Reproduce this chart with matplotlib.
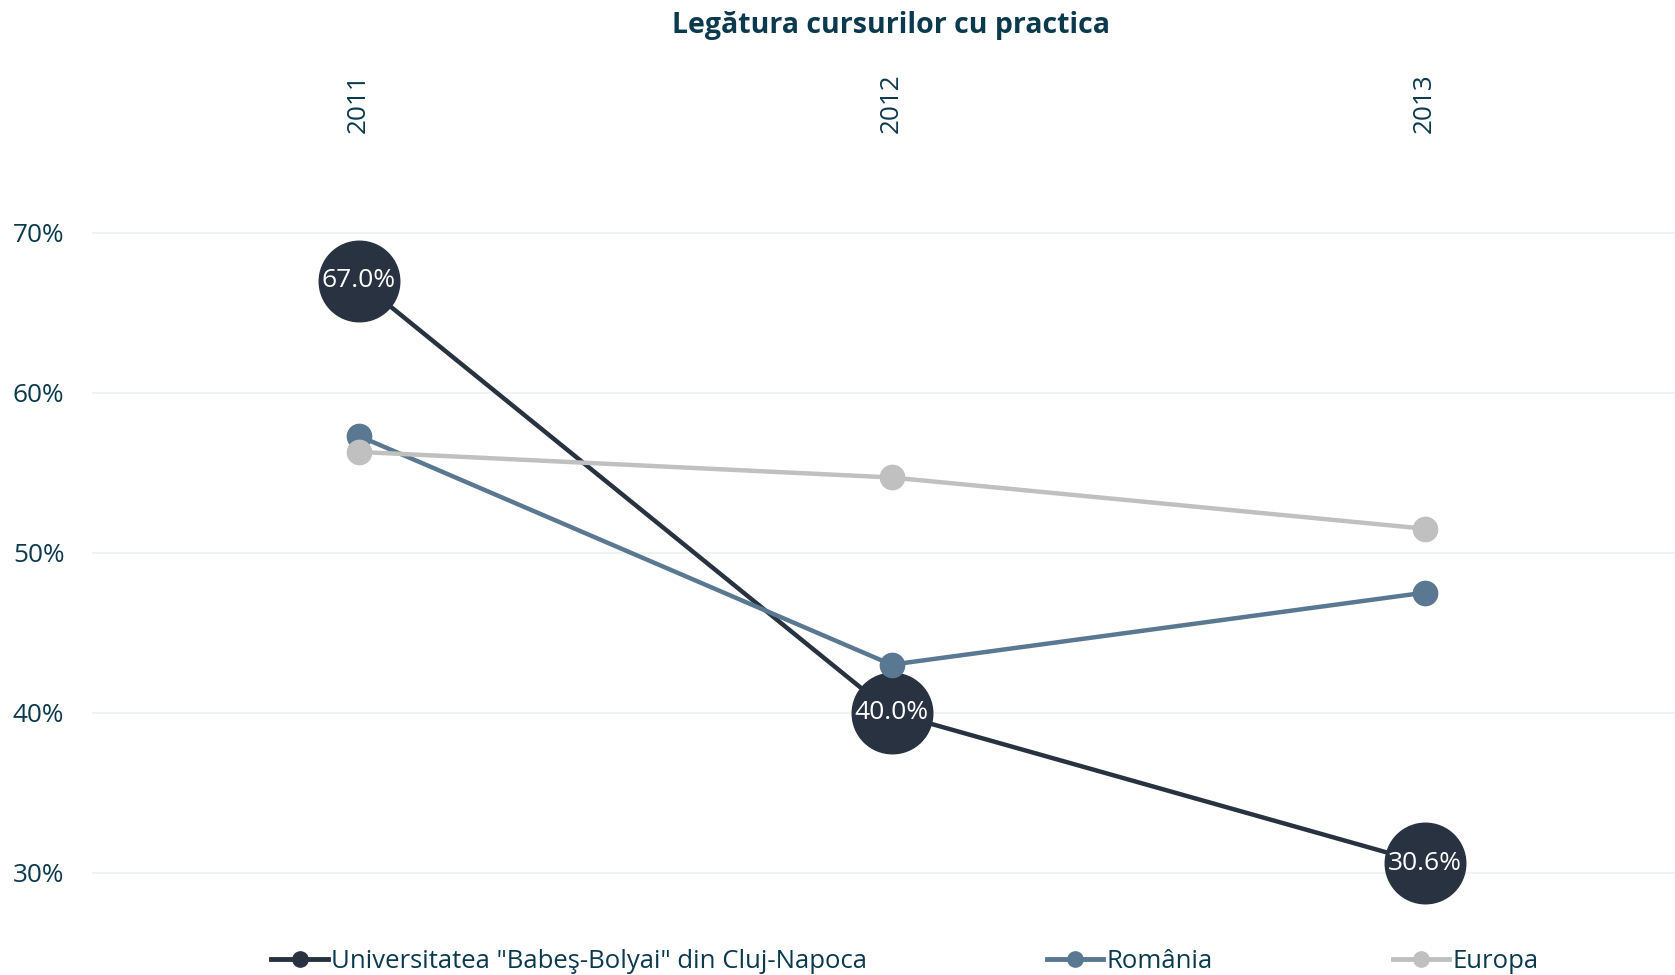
import matplotlib.pyplot as plt
from matplotlib.lines import Line2D
from matplotlib.ticker import PercentFormatter

plt.rcParams['font.family'] = ['Open Sans', 'DejaVu Sans']

years = ['2011', '2012', '2013']
ubb = [0.670, 0.400, 0.306]
romania = [0.573, 0.430, 0.475]
europa = [0.563, 0.547, 0.515]
series_names = ['Universitatea "Babeş-Bolyai" din Cluj-Napoca', 'România', 'Europa']

c_ubb = '#283241'
c_ro = '#5a7891'
c_eu = '#c0c0c0'
c_text = '#0b3a4e'

fig = plt.figure(figsize=(16.75, 9.75), dpi=100)
ax = fig.add_axes([0.055, 0.0229, 0.945, 0.8205])

x = range(len(years))
ax.plot(x, ubb, color=c_ubb, lw=3.2, marker='o', markersize=58, zorder=3)
ax.plot(x, romania, color=c_ro, lw=3.2, marker='o', markersize=17.5, zorder=4)
ax.plot(x, europa, color=c_eu, lw=3.2, marker='o', markersize=17.5, zorder=5)

# labels inside the big bubbles
for i, v in enumerate(ubb):
    ax.text(i, v, f'{v * 100:.1f}%', color='white', fontsize=19,
            ha='center', va='center', zorder=6)

ax.set_xlim(-0.5, 2.47)
ax.set_ylim(0.25, 0.75)
ax.set_yticks([0.3, 0.4, 0.5, 0.6, 0.7])
ax.yaxis.set_major_formatter(PercentFormatter(1.0, decimals=0))
ax.grid(axis='y', color='#edf1f2', lw=1.3)
ax.set_axisbelow(True)

ax.xaxis.tick_top()
ax.set_xticks(list(x))
ax.set_xticklabels(years, rotation=90)
ax.tick_params(axis='x', length=0, pad=14, labelsize=18.8, labelcolor=c_text)
ax.tick_params(axis='y', length=0, pad=20, labelsize=18.8, labelcolor=c_text)
for s in ax.spines.values():
    s.set_visible(False)

fig.text(0.532, 0.974, 'Legătura cursurilor cu practica', fontsize=20.5,
         fontweight='bold', color=c_text, ha='center', va='center')

handles = [Line2D([], [], color=c, lw=3.5, marker='o', markersize=11)
           for c in (c_ubb, c_ro, c_eu)]
leg = fig.legend(handles, series_names, loc='center left',
                 bbox_to_anchor=(0.162, 0.0135), ncol=3, frameon=False,
                 fontsize=18.5, handlelength=2.2, handletextpad=0.12,
                 columnspacing=7.0, borderpad=0, borderaxespad=0)
for t in leg.get_texts():
    t.set_color(c_text)

fig.savefig('out.png', dpi=100)
